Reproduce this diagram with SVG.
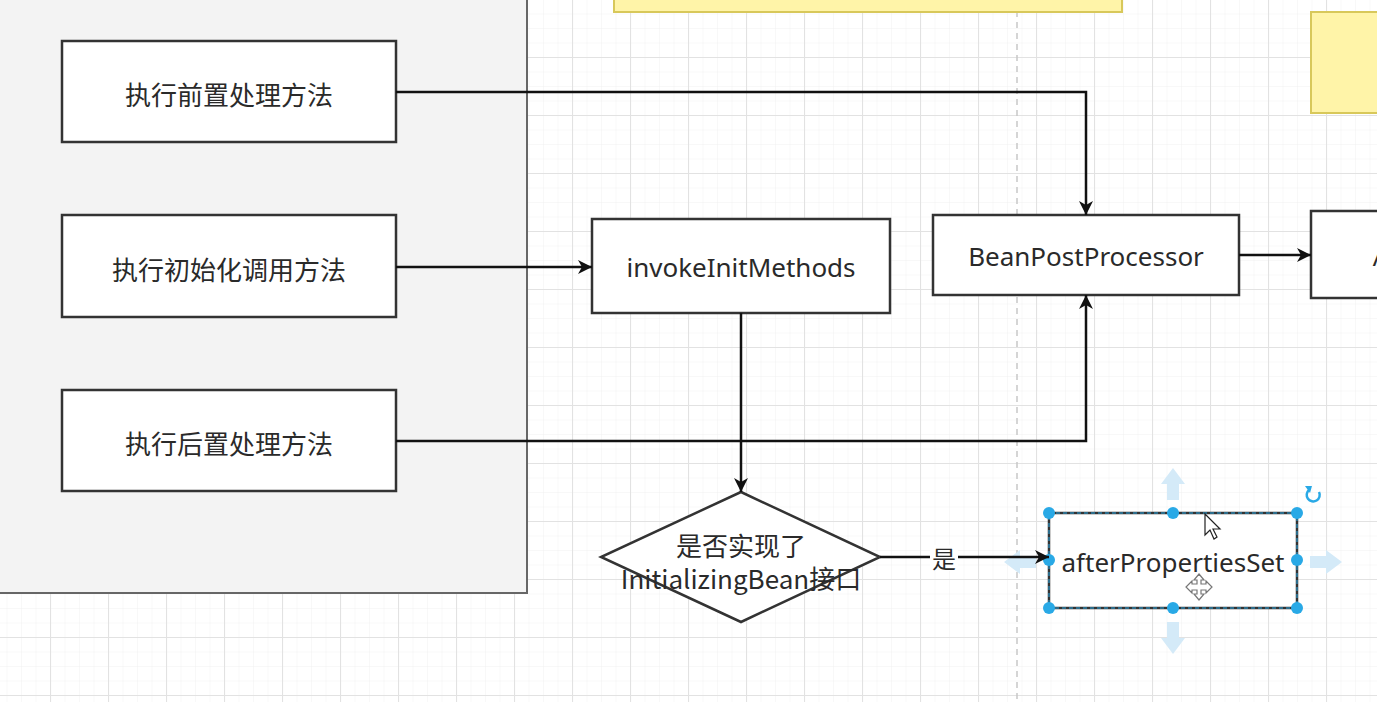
<svg xmlns="http://www.w3.org/2000/svg" width="1377" height="702" viewBox="0 0 1377 702">
<style>
.box{fill:#ffffff;stroke:#333333;stroke-width:2.5}
.zh{font-family:"Noto Sans CJK SC","Noto Sans",sans-serif;font-size:26px;fill:#2a2a2a;text-anchor:middle;dominant-baseline:central}
.en{font-family:"Noto Sans","Noto Sans CJK SC",sans-serif;font-size:26px;fill:#2a2a2a;text-anchor:middle;dominant-baseline:central}
.edge{fill:none;stroke:#111111;stroke-width:2.5}
.yel{fill:#fff4a8;stroke:#d8c85a;stroke-width:2}
.handle{fill:#29a9e6}
.hover{fill:#d4eaf8;stroke:none}
</style>
<defs>
<pattern id="minor" patternUnits="userSpaceOnUse" x="50" y="57" width="14.5" height="14.5">
<path d="M0,0 V14.5 M0,0 H14.5" stroke="#f1f1f1" stroke-width="1" fill="none"/>
</pattern>
<pattern id="major" patternUnits="userSpaceOnUse" x="50" y="57" width="58" height="58">
<path d="M0.5,0 V58 M0,0.5 H58" stroke="#e2e2e2" stroke-width="1.2" fill="none"/>
</pattern>
<marker id="arr" markerUnits="userSpaceOnUse" markerWidth="16" markerHeight="14" refX="14" refY="7" orient="auto">
<path d="M0,0 L14,7 L0,14 L4,7 Z" fill="#111111"/>
</marker>
</defs>
<rect width="1377" height="702" fill="#ffffff"/>
<rect width="1377" height="702" fill="url(#minor)"/>
<rect width="1377" height="702" fill="url(#major)"/>
<line x1="1017" y1="0" x2="1017" y2="702" stroke="#c8c8c8" stroke-width="1.5" stroke-dasharray="6,5"/>

<g id="panel">
<rect x="-5" y="-5" width="532" height="598" fill="#f3f3f3" stroke="#666666" stroke-width="2"/>
</g>
<g id="yellow-top"><rect class="yel" x="614" y="-10" width="508" height="22"/></g>
<g id="yellow-right"><rect class="yel" x="1311" y="12" width="80" height="101"/></g>

<g id="node-pre">
<rect class="box" x="62" y="41" width="334" height="101"/>
<text class="zh" x="229" y="93">执行前置处理方法</text>
</g>
<g id="node-init">
<rect class="box" x="62" y="215" width="334" height="102"/>
<text class="zh" x="229" y="268">执行初始化调用方法</text>
</g>
<g id="node-post">
<rect class="box" x="62" y="390" width="334" height="101"/>
<text class="zh" x="229" y="442">执行后置处理方法</text>
</g>
<g id="node-invoke">
<rect class="box" x="592" y="219" width="298" height="94"/>
<text class="en" x="741" y="267">invokeInitMethods</text>
</g>
<g id="node-bpp">
<rect class="box" x="933" y="215" width="306" height="80"/>
<text class="en" x="1086" y="256">BeanPostProcessor</text>
</g>
<g id="node-right">
<rect class="box" x="1311" y="211" width="80" height="87"/>
<text class="en" x="1381" y="256">A</text>
</g>
<g id="node-decision">
<polygon points="741,492 880,557 741,622 601,557" fill="#ffffff" stroke="#333333" stroke-width="2.5"/>
<text class="zh" x="741" y="544">是否实现了</text>
<text class="zh" x="741" y="577">InitializingBean接口</text>
</g>
<g id="node-after">
<path class="hover" d="M1167,500 V484 H1161 L1173,468 L1185,484 H1179 V500 Z"/>
<path class="hover" d="M1167,622 V638 H1161 L1173,654 L1185,638 H1179 V622 Z"/>
<path class="hover" d="M1310,556 H1326 V550 L1342,562 L1326,574 V568 H1310 Z"/>
<path class="hover" d="M1036,556 H1020 V550 L1004,562 L1020,574 V568 H1036 Z"/>
<rect class="box" x="1049" y="513" width="248" height="95"/>
<rect x="1049" y="513" width="248" height="95" fill="none" stroke="#29a9e6" stroke-width="1" stroke-dasharray="4,3"/>
<text class="en" x="1173" y="562">afterPropertiesSet</text>
<circle class="handle" cx="1049" cy="513" r="6"/>
<circle class="handle" cx="1173" cy="513" r="6"/>
<circle class="handle" cx="1297" cy="513" r="6"/>
<circle class="handle" cx="1049" cy="560" r="6"/>
<circle class="handle" cx="1297" cy="560" r="6"/>
<circle class="handle" cx="1049" cy="608" r="6"/>
<circle class="handle" cx="1173" cy="608" r="6"/>
<circle class="handle" cx="1297" cy="608" r="6"/>
<path d="M1319,492 A6.5,6.5 0 1 1 1309,490" fill="none" stroke="#29a9e6" stroke-width="2.5"/>
<path d="M1305,486 L1312,486 L1310,493 Z" fill="#29a9e6"/>
<path d="M1205,514 L1205,535 L1210,530 L1214,539 L1217,537 L1213,529 L1220,529 Z" fill="#ffffff" stroke="#222222" stroke-width="1.2"/>
<path d="M1199,574 L1204,580 H1201 V584 H1206 V581 L1212,587 L1206,593 V590 H1201 V594 H1204 L1199,600 L1194,594 H1197 V590 H1192 V593 L1186,587 L1192,581 V584 H1197 V580 H1194 Z" fill="#ffffff" stroke="#777777" stroke-width="1.2"/>
</g>

<g id="connectors">
<path class="edge" d="M396,92 H1086 V215" marker-end="url(#arr)"/>
<path class="edge" d="M396,267 H592" marker-end="url(#arr)"/>
<path class="edge" d="M396,441 H1086 V295" marker-end="url(#arr)"/>
<path class="edge" d="M741,313 V492" marker-end="url(#arr)"/>
<path class="edge" d="M1239,255 H1311" marker-end="url(#arr)"/>
<path class="edge" d="M880,557 H1049" marker-end="url(#arr)"/>
<rect x="930" y="545" width="28" height="26" fill="#ffffff"/>
<text class="zh" x="944" y="557" style="font-size:24px">是</text>
</g>
</svg>
